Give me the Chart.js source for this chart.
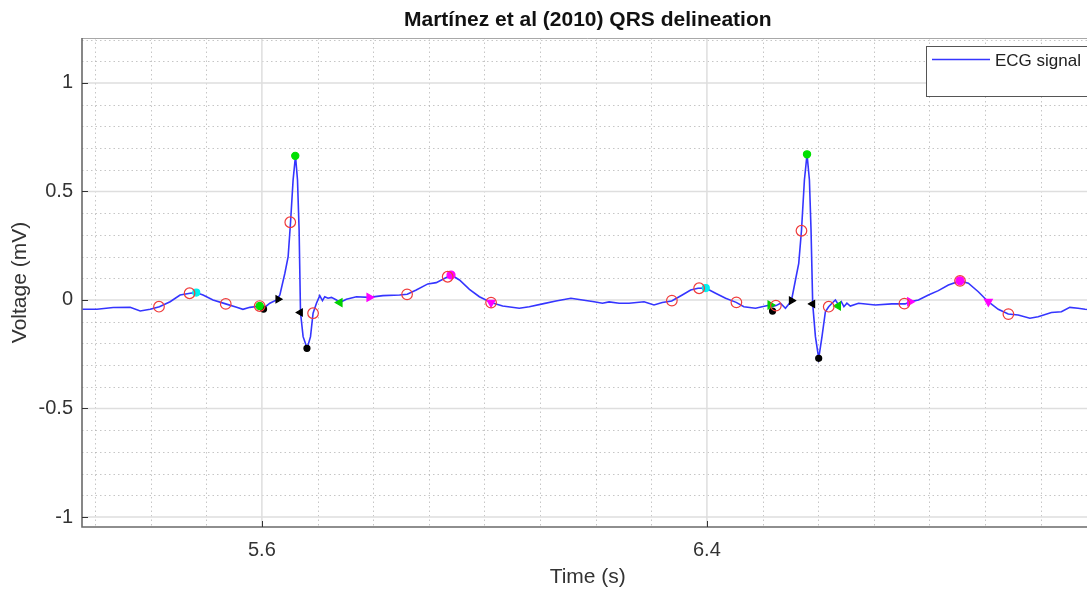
<!DOCTYPE html>
<html>
<head>
<meta charset="utf-8">
<script src="https://cdn.jsdelivr.net/npm/chart.js@4.4.1/dist/chart.umd.min.js"></script>
<style>
  html, body { margin: 0; padding: 0; background: #fff; overflow: hidden; }
  #wrap { width: 1087px; height: 589px; overflow: hidden; }
  canvas { display: block; }
</style>
</head>
<body>
<div id="wrap"><canvas id="c" width="1100" height="589"></canvas></div>
<script>
// ---- Data ----
const time = [5.277,5.3035,5.3327,5.3632,5.3812,5.3991,5.4158,5.435,5.4529,5.4709,5.4816,5.4942,5.5121,5.5349,5.5546,5.5659,5.5785,5.5964,5.6032,5.6143,5.6264,5.6323,5.6413,5.6472,5.6515,5.6561,5.6604,5.664,5.6669,5.6694,5.6741,5.6813,5.6874,5.692,5.6981,5.704,5.7089,5.713,5.7189,5.725,5.734,5.7399,5.7519,5.7699,5.7925,5.8176,5.8475,5.8613,5.8775,5.8983,5.9134,5.9342,5.9403,5.9552,5.9731,5.991,6.012,6.0328,6.0628,6.0807,6.1046,6.1286,6.1555,6.1763,6.1973,6.2122,6.2242,6.2422,6.2601,6.287,6.3049,6.3198,6.3367,6.3557,6.3708,6.3839,6.3977,6.4156,6.4336,6.4526,6.4664,6.4874,6.5053,6.5143,6.5184,6.5244,6.5323,6.5412,6.5484,6.552,6.5592,6.5651,6.57,6.5753,6.58,6.5843,6.5872,6.5902,6.5951,6.601,6.6069,6.613,6.6189,6.6249,6.631,6.6368,6.6416,6.6463,6.6517,6.6578,6.6726,6.7026,6.7324,6.7564,6.7653,6.7803,6.7982,6.8161,6.8341,6.8551,6.87,6.8879,6.9058,6.9238,6.9417,6.9596,6.9806,6.9955,7.0194,7.0373,7.0524,7.0673,7.0798,7.095];
const voltage = [-0.043,-0.043,-0.035,-0.034,-0.051,-0.043,-0.031,-0.008,0.023,0.031,0.034,0.023,0.0,-0.018,-0.034,-0.043,-0.034,-0.028,-0.038,-0.015,0.0,0.023,0.123,0.2,0.358,0.553,0.664,0.553,0.323,-0.058,-0.169,-0.223,-0.169,-0.061,-0.015,0.02,-0.003,0.015,0.008,0.012,0.0,-0.012,0.003,0.015,0.012,0.02,0.023,0.026,0.046,0.074,0.08,0.107,0.115,0.092,0.049,0.015,-0.012,-0.028,-0.038,-0.031,-0.018,-0.005,0.008,0.0,-0.008,-0.015,-0.009,-0.015,-0.015,-0.008,-0.023,-0.012,-0.005,0.023,0.046,0.054,0.055,0.031,0.008,-0.011,-0.031,-0.038,-0.028,-0.023,-0.03,-0.026,-0.015,-0.038,-0.015,-0.003,0.092,0.169,0.319,0.553,0.671,0.553,0.323,-0.018,-0.169,-0.269,-0.169,-0.054,-0.031,-0.015,0.0,-0.023,-0.008,-0.031,-0.015,-0.028,-0.015,-0.023,-0.018,-0.018,-0.008,0.0,0.023,0.043,0.069,0.088,0.077,0.038,-0.008,-0.043,-0.065,-0.069,-0.084,-0.077,-0.058,-0.054,-0.034,-0.038,-0.043,-0.045];

// Delineation markers
const redCircleT = [5.415,5.470,5.535,5.596,5.651,5.692,5.861,5.934,6.012,6.337,6.386,6.453,6.524,6.570,6.619,6.755,6.855,6.942];
const redCircleV = [-0.031,0.031,-0.018,-0.028,0.358,-0.061,0.026,0.107,-0.012,-0.003,0.054,-0.011,-0.026,0.319,-0.031,-0.017,0.088,-0.065];
const cyanDotT = [5.482,6.398];
const cyanDotV = [0.034,0.055];
const greenDotT = [5.596,5.660,6.580];
const greenDotV = [-0.028,0.664,0.671];
const greenTriRightT = [6.514];
const greenTriRightV = [-0.023];
const greenTriLeftT = [5.740,6.636];
const greenTriLeftV = [-0.012,-0.028];
const blackDotT = [5.603,5.681,6.518,6.601];
const blackDotV = [-0.042,-0.223,-0.051,-0.269];
const blackTriRightT = [5.629,6.552];
const blackTriRightV = [0.003,-0.003];
const blackTriLeftT = [5.669,6.590];
const blackTriLeftV = [-0.058,-0.018];
const magentaDotT = [5.940,6.855];
const magentaDotV = [0.115,0.088];
const magentaTriRightT = [5.793,6.765];
const magentaTriRightV = [0.012,-0.008];
const magentaTriDownT = [6.012,6.906];
const magentaTriDownV = [-0.012,-0.008];

// Axis ticks
const xTickLabels = [5.6,6.4];
const yTickLabels = [-1,-0.5,0,0.5,1];
const xMinorTicks = [5.3,5.4,5.5,5.6,5.7,5.8,5.9,6.0,6.1,6.2,6.3,6.4,6.5,6.6,6.7,6.8,6.9,7.0];
const yMinorTicks = [-1,-0.9,-0.8,-0.7,-0.6,-0.5,-0.4,-0.3,-0.2,-0.1,0,0.1,0.2,0.3,0.4,0.5,0.6,0.7,0.8,0.9,1.0,1.1,1.2];

const titleText = 'Martínez et al (2010) QRS delineation';
const pts = (T, V) => T.map((t, i) => ({x: t, y: V[i]}));
const FONT = "'Liberation Sans', Arial, Helvetica, sans-serif";

function markerSet(label, T, V, style, color, fill, radius, rotation) {
  return {
    label, data: pts(T, V), showLine: false, type: 'scatter',
    pointStyle: style, pointRadius: radius, pointHoverRadius: radius,
    pointRotation: rotation || 0,
    pointBackgroundColor: fill, pointBorderColor: color, pointBorderWidth: 1.2
  };
}

const gridPlugin = {
  id: 'matlabGrid',
  beforeDatasetsDraw(chart) {
    const {ctx, chartArea: a, scales: {x, y}} = chart;
    ctx.save();
    // minor dotted
    ctx.strokeStyle = 'rgba(160,160,160,0.6)';
    ctx.lineWidth = 1;
    ctx.setLineDash([1.5, 3]);
    xMinorTicks.forEach(v => {
      if (xTickLabels.some(m => Math.abs(m - v) < 1e-6)) return;
      const px = Math.round(x.getPixelForValue(v)) + 0.5;
      ctx.beginPath(); ctx.moveTo(px, a.top); ctx.lineTo(px, a.bottom); ctx.stroke();
    });
    yMinorTicks.forEach(v => {
      if (yTickLabels.some(m => Math.abs(m - v) < 1e-6)) return;
      const py = Math.round(y.getPixelForValue(v)) + 0.5;
      ctx.beginPath(); ctx.moveTo(a.left, py); ctx.lineTo(a.right, py); ctx.stroke();
    });
    // major solid
    ctx.setLineDash([]);
    ctx.strokeStyle = '#dedede';
    ctx.lineWidth = 1.5;
    xTickLabels.forEach(v => {
      const px = x.getPixelForValue(v);
      ctx.beginPath(); ctx.moveTo(px, a.top); ctx.lineTo(px, a.bottom); ctx.stroke();
    });
    yTickLabels.forEach(v => {
      const py = y.getPixelForValue(v);
      ctx.beginPath(); ctx.moveTo(a.left, py); ctx.lineTo(a.right, py); ctx.stroke();
    });
    ctx.restore();
  },
  afterDatasetsDraw(chart) {
    const {ctx, chartArea: a, scales: {x, y}} = chart;
    ctx.save();
    // frame
    ctx.strokeStyle = '#a8a8a8';
    ctx.lineWidth = 1;
    ctx.beginPath(); ctx.moveTo(a.left, a.top + 0.5); ctx.lineTo(a.right, a.top + 0.5); ctx.stroke();
    ctx.strokeStyle = '#6a6a6a';
    ctx.lineWidth = 1.6;
    ctx.beginPath();
    ctx.moveTo(a.left, a.top); ctx.lineTo(a.left, a.bottom); ctx.lineTo(a.right, a.bottom);
    ctx.stroke();
    // inward tick marks
    ctx.strokeStyle = '#333';
    ctx.lineWidth = 1;
    yTickLabels.forEach(v => {
      const py = Math.round(y.getPixelForValue(v)) + 0.5;
      ctx.beginPath(); ctx.moveTo(a.left, py); ctx.lineTo(a.left + 6, py); ctx.stroke();
    });
    xTickLabels.forEach(v => {
      const px = Math.round(x.getPixelForValue(v)) + 0.5;
      ctx.beginPath(); ctx.moveTo(px, a.bottom); ctx.lineTo(px, a.bottom - 6); ctx.stroke();
    });
    // title centred over the axes
    ctx.fillStyle = '#111';
    ctx.font = 'bold 21px ' + FONT;
    ctx.textAlign = 'center';
    ctx.textBaseline = 'middle';
    ctx.fillText(titleText, (a.left + a.right) / 2, 20);
    // legend box
    const lx = 926, ly = 46, lw = 200, lh = 50;
    ctx.fillStyle = '#fff';
    ctx.fillRect(lx, ly, lw, lh);
    ctx.strokeStyle = '#555';
    ctx.lineWidth = 1;
    ctx.strokeRect(lx + 0.5, ly + 0.5, lw, lh);
    ctx.strokeStyle = '#3535ff';
    ctx.lineWidth = 1.5;
    ctx.beginPath(); ctx.moveTo(932, 59.5); ctx.lineTo(990, 59.5); ctx.stroke();
    ctx.fillStyle = '#222';
    ctx.font = '17px ' + FONT;
    ctx.textBaseline = 'middle';
    ctx.textAlign = 'left';
    ctx.fillText('ECG signal', 995, 61);
    ctx.restore();
  }
};

new Chart(document.getElementById('c'), {
  type: 'scatter',
  data: {
    datasets: [
      markerSet('red', redCircleT, redCircleV, 'circle', '#f03c3c', 'rgba(0,0,0,0)', 5.3),
      markerSet('cyan', cyanDotT, cyanDotV, 'circle', '#00f0f0', '#00f0f0', 3.5),
      markerSet('greenDot', greenDotT, greenDotV, 'circle', '#00e000', '#00e000', 3.6),
      markerSet('greenTriR', greenTriRightT, greenTriRightV, 'triangle', '#00d000', '#00d000', 4.5, 90),
      markerSet('greenTriL', greenTriLeftT, greenTriLeftV, 'triangle', '#00d000', '#00d000', 4.5, -90),
      markerSet('blackDot', blackDotT, blackDotV, 'circle', '#000', '#000', 3),
      markerSet('blackTriR', blackTriRightT, blackTriRightV, 'triangle', '#000', '#000', 4, 90),
      markerSet('blackTriL', blackTriLeftT, blackTriLeftV, 'triangle', '#000', '#000', 4, -90),
      markerSet('magDot', magentaDotT, magentaDotV, 'circle', '#ff00ff', '#ff00ff', 4),
      markerSet('magTriR', magentaTriRightT, magentaTriRightV, 'triangle', '#ff00ff', '#ff00ff', 4.5, 90),
      markerSet('magTriD', magentaTriDownT, magentaTriDownV, 'triangle', '#ff00ff', '#ff00ff', 4.5, 180),
      {
        label: 'ECG signal', type: 'line', data: pts(time, voltage),
        borderColor: '#3535ff', borderWidth: 1.6, pointRadius: 0, tension: 0, fill: false
      }
    ]
  },
  options: {
    responsive: false,
    animation: false,
    devicePixelRatio: 1,
    layout: { padding: { left: 0, right: 4, top: 38, bottom: 0 } },
    plugins: {
      legend: { display: false },
      tooltip: { enabled: false },
      title: { display: false }
    },
    scales: {
      x: {
        type: 'linear', min: 5.2766, max: 7.095,
        afterBuildTicks: s => { s.ticks = xTickLabels.map(v => ({value: v})); },
        afterFit: s => { s.height = 62; },
        grid: { display: false, drawTicks: false },
        border: { display: false },
        ticks: {
          color: '#333', padding: 11,
          font: { family: FONT, size: 20 },
          callback: v => v.toFixed(1)
        },
        title: {
          display: true, text: 'Time (s)', color: '#333',
          font: { family: FONT, size: 21 }, padding: { top: 0, bottom: -1 }
        }
      },
      y: {
        type: 'linear', min: -1.046, max: 1.207,
        afterBuildTicks: s => { s.ticks = yTickLabels.map(v => ({value: v})); },
        afterFit: s => { s.width = 82; },
        grid: { display: false, drawTicks: false },
        border: { display: false },
        ticks: {
          color: '#333', padding: 9,
          font: { family: FONT, size: 20 },
          callback: v => String(v)
        },
        title: {
          display: true, text: 'Voltage (mV)', color: '#333',
          font: { family: FONT, size: 21 }, padding: { top: 8, bottom: 0 }
        }
      }
    }
  },
  plugins: [gridPlugin]
});
</script>
</body>
</html>
